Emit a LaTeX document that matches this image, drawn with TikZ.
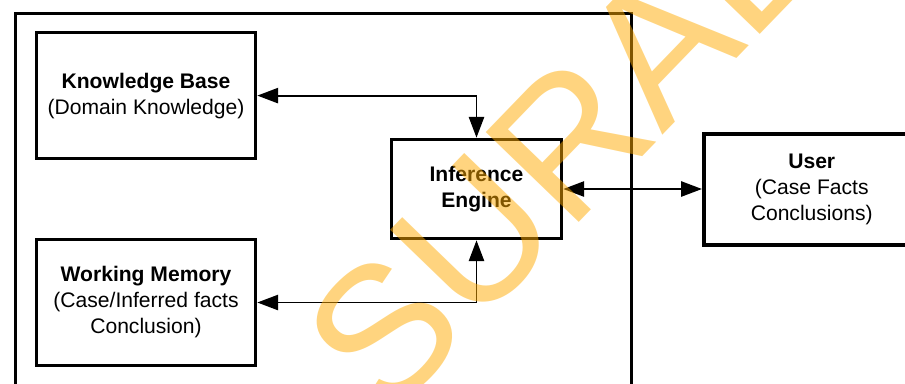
\documentclass[tikz,border=0pt]{standalone}
\usepackage{fontspec}
\setmainfont{Liberation Sans}
\usetikzlibrary{arrows.meta}

\definecolor{wmorange}{RGB}{255,170,0}

\begin{document}
\begin{tikzpicture}[
    font=\fontsize{15}{18.5}\selectfont,
    module/.style={draw, line width=2.6pt, rectangle, minimum width=5.475cm, minimum height=3.15cm, align=center, inner sep=0pt},
    link/.style={{Triangle[length=0.52cm,width=0.38cm]}-{Triangle[length=0.52cm,width=0.38cm]}, line width=1.4pt},
    watermark/.style={text=wmorange, opacity=0.5, font=\fontsize{133.7}{133.7}\selectfont, inner sep=0pt}
]
    \clip (0,0) rectangle (22.625,-9.575);

    % Expert system frame
    \node[draw, line width=2.6pt, minimum width=15.4cm, minimum height=10.1625cm, inner sep=0pt] (shell) at (8.0875,-5.41875) {};

    % Stores
    \node[module] (kb) at (3.65,-2.39) {\textbf{Knowledge Base}\\(Domain Knowledge)};
    \node[module] (wm) at (3.65,-7.5625) {\textbf{Working Memory}\\(Case/Inferred facts\\Conclusion)};

    % Engine
    \node[module, minimum width=4.25cm, minimum height=2.475cm] (ie) at (11.9125,-4.725) {\textbf{Inference}\\\textbf{Engine}};

    % User
    \node[module, minimum width=5.4cm, minimum height=2.79cm] (user) at (20.294,-4.7375) {\textbf{User}\\(Case Facts\\Conclusions)};

    % Arrows
    \draw[link] (kb.east) -| (ie.north);
    \draw[link] (wm.east) -| (ie.south);
    \draw[link] (ie.east) -- (ie.east -| user.west);

    % Watermark
    \node[watermark, rotate=46] (stamp) at (17.15,-0.45) {SURABAYA};
\end{tikzpicture}
\end{document}
